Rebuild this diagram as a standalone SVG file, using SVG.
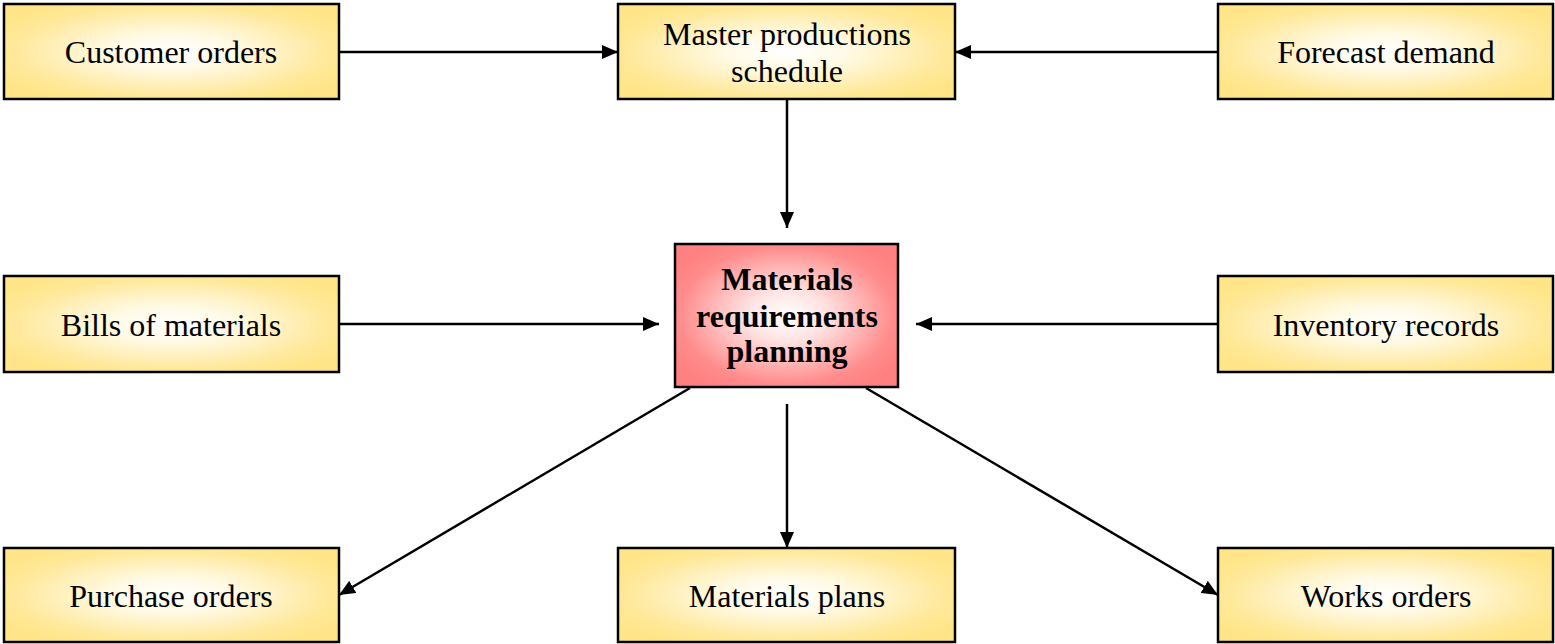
<svg xmlns="http://www.w3.org/2000/svg" width="1555" height="644" viewBox="0 0 1555 644">
  <defs>
    <radialGradient id="gYellow" cx="0.5" cy="0.5" r="0.6">
      <stop offset="0" stop-color="#FFFFFF"/>
      <stop offset="0.3" stop-color="#FFFAE6"/>
      <stop offset="0.8" stop-color="#FFE898"/>
      <stop offset="1" stop-color="#FFE588"/>
    </radialGradient>
    <radialGradient id="gRed" cx="0.5" cy="0.5" r="0.6">
      <stop offset="0" stop-color="#FFFFFF"/>
      <stop offset="0.3" stop-color="#FFE2E2"/>
      <stop offset="0.8" stop-color="#FF8C8C"/>
      <stop offset="1" stop-color="#FF8080"/>
    </radialGradient>
    <marker id="arrow" viewBox="0 0 16 14" refX="16" refY="7" markerWidth="16" markerHeight="14" markerUnits="userSpaceOnUse" orient="auto">
      <path d="M0,0 L16,7 L0,14 Z" fill="#000"/>
    </marker>
  </defs>
  <style>
    .box { fill: url(#gYellow); stroke: #000; stroke-width: 2.5; }
    .core { fill: url(#gRed); stroke: #000; stroke-width: 2.5; }
    .label { font-family: "Liberation Serif", "Times New Roman", serif; font-size: 32px; fill: #000; text-anchor: middle; }
    .bold { font-weight: bold; }
    .edge { stroke: #000; stroke-width: 2.5; fill: none; marker-end: url(#arrow); }
  </style>

  <!-- connectors -->
  <g id="connectors">
    <line class="edge" x1="339" y1="52" x2="618" y2="52"/>
    <line class="edge" x1="1218" y1="52" x2="955" y2="52"/>
    <line class="edge" x1="787" y1="99" x2="787" y2="228"/>
    <line class="edge" x1="339" y1="324" x2="659" y2="324"/>
    <line class="edge" x1="1218" y1="324" x2="916" y2="324"/>
    <line class="edge" x1="787" y1="404" x2="787" y2="548"/>
    <line class="edge" x1="690" y1="388" x2="339" y2="595"/>
    <line class="edge" x1="866" y1="388" x2="1218" y2="595"/>
  </g>

  <!-- inputs -->
  <g id="customer-orders">
    <rect class="box" x="4" y="4" width="335" height="95"/>
    <text class="label" x="171" y="63">Customer orders</text>
  </g>
  <g id="master-schedule">
    <rect class="box" x="618" y="4" width="337" height="95"/>
    <text class="label" x="787" y="45">Master productions</text>
    <text class="label" x="787" y="82">schedule</text>
  </g>
  <g id="forecast-demand">
    <rect class="box" x="1218" y="4" width="335" height="95"/>
    <text class="label" x="1386" y="63">Forecast demand</text>
  </g>
  <g id="bills-of-materials">
    <rect class="box" x="4" y="276" width="335" height="96"/>
    <text class="label" x="171" y="336">Bills of materials</text>
  </g>
  <g id="inventory-records">
    <rect class="box" x="1218" y="276" width="335" height="96"/>
    <text class="label" x="1386" y="336">Inventory records</text>
  </g>

  <!-- central process -->
  <g id="mrp">
    <rect class="core" x="675" y="244" width="223" height="143"/>
    <text class="label bold" x="787" y="290">Materials</text>
    <text class="label bold" x="787" y="327">requirements</text>
    <text class="label bold" x="787" y="362">planning</text>
  </g>

  <!-- outputs -->
  <g id="purchase-orders">
    <rect class="box" x="4" y="548" width="335" height="94"/>
    <text class="label" x="171" y="607">Purchase orders</text>
  </g>
  <g id="materials-plans">
    <rect class="box" x="618" y="548" width="337" height="94"/>
    <text class="label" x="787" y="607">Materials plans</text>
  </g>
  <g id="works-orders">
    <rect class="box" x="1218" y="548" width="335" height="94"/>
    <text class="label" x="1386" y="607">Works orders</text>
  </g>
</svg>
